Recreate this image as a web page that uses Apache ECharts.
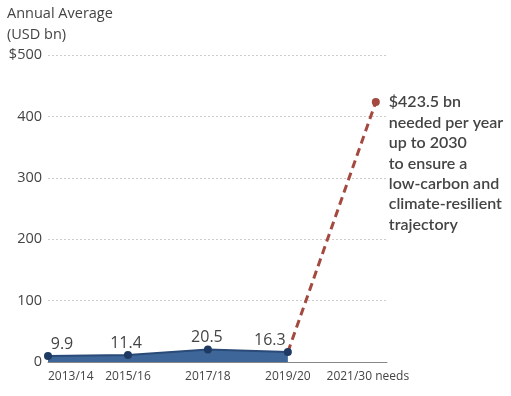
<!DOCTYPE html>
<html><head><meta charset="utf-8">
<script src="https://cdn.jsdelivr.net/npm/echarts@6/dist/echarts.min.js"></script>
<style>html,body{margin:0;padding:0;background:#fff}#c{width:511px;height:396px}</style>
</head><body><div id="c"></div>
<script>
const categories = ['2013/14', '2015/16', '2017/18', '2019/20', '2021/30 needs'];
const actualValues = [9.9, 11.4, 20.5, 16.3, null];
const neededValues = [null, null, null, 16.3, 423.5];
const yTicks = [0, 100, 200, 300, 400, 500];
const titleLines = ['Annual Average', '(USD bn)'];
const noteLines = ['$423.5 bn', 'needed per year', 'up to 2030', 'to ensure a', 'low-carbon and', 'climate-resilient', 'trajectory'];

const font = '"Open Sans", Lato, sans-serif';
const noteFont = 'Lato, "Open Sans", sans-serif';
const needsNudge = 0.1;      // the needs point sits slightly right of its tick
const axisExtent = 0.24;     // axis and gridlines extend past the last category
const lastIdx = categories.length - 1;
const toXY = (vals, isNeeds) => vals.map((v, i) => v == null ? null :
  [i + (isNeeds && i === lastIdx ? needsNudge : 0), v]).filter(d => d);

const chart = echarts.init(document.getElementById('c'));
const labelOffsets = [[14, 2], [-2, 1], [-1, 1], [-18, 1]];
chart.setOption({
  animation: false,
  grid: { left: 48, right: 124, top: 55, bottom: 34 },
  graphic: [{
    type: 'text', left: 7, top: 3,
    style: { text: titleLines.join('\n'), fontSize: 14.5, lineHeight: 21, fill: '#444', fontFamily: font }
  }],
  xAxis: {
    type: 'value', min: 0, max: lastIdx + axisExtent, interval: 1,
    splitLine: { show: false },
    axisLine: { show: true, lineStyle: { color: '#888', width: 1 } },
    axisTick: { show: false },
    axisLabel: { color: '#444', fontSize: 12, fontFamily: font, margin: 9,
      showMaxLabel: false, alignMinLabel: 'left',
      formatter: v => categories[v] || '' }
  },
  yAxis: {
    type: 'value', min: yTicks[0], max: yTicks[yTicks.length - 1], interval: 100,
    axisLine: { show: false }, axisTick: { show: false },
    axisLabel: { color: '#444', fontSize: 14.5, fontFamily: font, margin: 6,
      formatter: v => v === yTicks[yTicks.length - 1] ? '$' + v : String(v) },
    splitLine: { show: true, lineStyle: { color: '#ccc', type: [2, 2], width: 1 } }
  },
  series: [{
    type: 'line', data: toXY(actualValues, false).map((d, i) => ({
      value: d,
      label: { offset: labelOffsets[i] || [0, 0] }
    })),
    symbol: 'circle', symbolSize: 8,
    itemStyle: { color: '#1e3a63' },
    lineStyle: { color: '#2a4a78', width: 2 },
    areaStyle: { color: '#3e6698', opacity: 1 },
    label: { show: true, position: 'top', distance: 1, color: '#444', fontSize: 16, fontFamily: font,
      formatter: p => String(p.value[1]) },
    z: 3
  }, {
    type: 'line', data: toXY(neededValues, true).map((d, i, arr) => i === arr.length - 1 ? ({
      value: d,
      symbol: 'circle', symbolSize: 8,
      label: {
        show: true, position: [17, -6], align: 'left', verticalAlign: 'top',
        formatter: noteLines.join('\n'), color: '#444', fontSize: 16, lineHeight: 20.4,
        fontWeight: 600, fontFamily: noteFont
      }
    }) : ({ value: d, symbol: 'none' })),
    itemStyle: { color: '#a3493f' },
    lineStyle: { color: '#a3493f', width: 3, type: [8, 5] },
    z: 2
  }]
});
</script></body></html>
